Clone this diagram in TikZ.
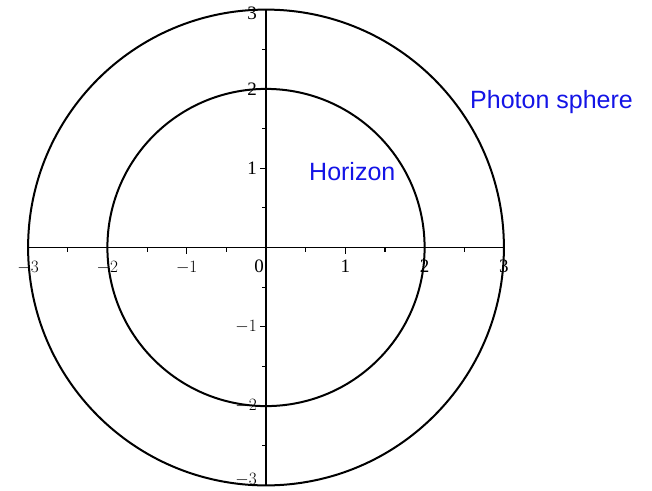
\documentclass[tikz,border=0pt]{standalone}
\usepackage{fontspec}
\setmainfont{Liberation Serif}
\newfontfamily\labfont{Liberation Sans}
\definecolor{lblue}{RGB}{20,20,230}
\begin{document}
\begin{tikzpicture}[x=1pt,y=-1pt,
  curve/.style={line width=2pt,black},
  axisline/.style={line width=1.5pt,black},
  tickmark/.style={line width=1.1pt,black},
  ticklab/.style={font=\fontsize{19}{19}\selectfont,inner sep=0pt},
  bluelab/.style={font=\labfont\fontsize{25}{25}\selectfont,text=lblue,inner sep=0pt,anchor=base west}]
\useasboundingbox (0,0) rectangle (652,490);
\def\u{79.3}
\coordinate (O) at (266,247.5);
% circles
\draw[curve] (O) circle (3*\u);
\draw[curve] (O) circle (2*\u);
% axes
\coordinate (xl) at (266-3*\u,247.5);
\coordinate (xr) at (266+3*\u,247.5);
\coordinate (yt) at (266,247.5-3*\u);
\coordinate (yb) at (266,247.5+3*\u);
\draw[axisline] (xl) -- (xr);
\draw[axisline] (yt) -- (yb);
% ticks
\foreach \k in {-3,-2.5,...,3.1}{
  \draw[tickmark] (266+\k*\u,247.5) -- ++(0,4);
  \draw[tickmark] (266,247.5+\k*\u) -- ++(-4,0);
}
\foreach \k in {-3,-2,-1,1,2,3}{
  \draw[tickmark] (266+\k*\u,247.5) -- ++(0,6);
  \draw[tickmark] (266,247.5+\k*\u) -- ++(-6,0);
}
% x labels
\foreach \k/\t in {-3/$-3$,-2/$-2$,-1/$-1$,1/1,2/2,3/3}{
  \node[ticklab,anchor=base] (xlab\k) at (266+\k*\u,272) {\t};
}
\node[ticklab,anchor=base] (xlab0) at (259,272) {0};
% y labels
\foreach \k/\t in {2/2,1/1,-1/$-1$,-2/$-2$}{
  \node[ticklab,anchor=east] (ylab\k) at (257,247.5-\k*\u) {\t};
}
\node[ticklab,anchor=east] (ylab3) at (257,13) {3};
\node[ticklab,anchor=east] (ylab-3) at (257,480) {$-3$};
% text labels
\node[bluelab] (photon) at (470,108) {Photon sphere};
\node[bluelab] (horizon) at (309,180) {Horizon};
\end{tikzpicture}
\end{document}
